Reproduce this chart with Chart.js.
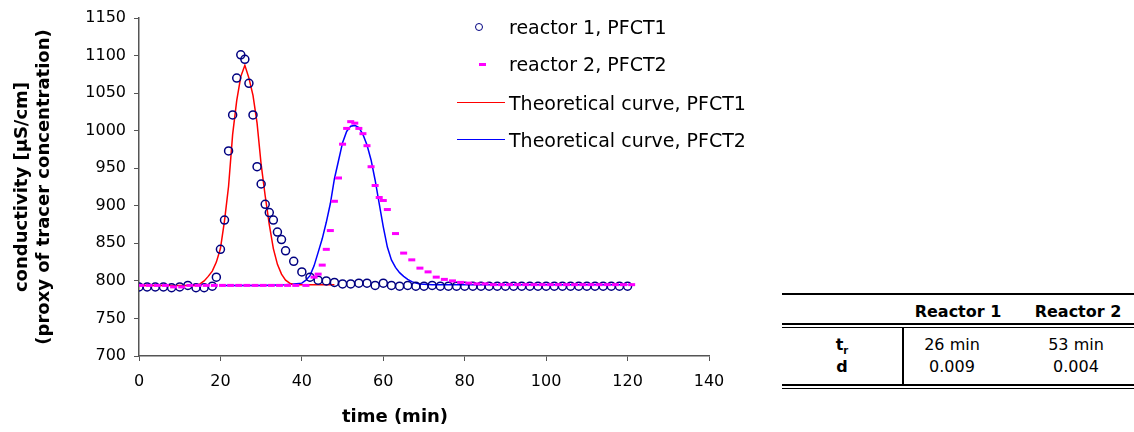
<!DOCTYPE html>
<html>
<head>
<meta charset="utf-8">
<script src="https://cdn.jsdelivr.net/npm/chart.js@4.4.0/dist/chart.umd.min.js"></script>
<style>
  body { margin: 0; background: #fff; font-family: "DejaVu Sans", Verdana, sans-serif; color: #000; }
  #wrap { position: relative; width: 1134px; height: 432px; overflow: hidden; }
  #chartBox { position: absolute; left: 0; top: 0; width: 740px; height: 432px; }
  .xtitle { position: absolute; left: 295px; top: 405px; width: 200px; text-align: center; font-weight: bold; font-size: 18px; }
  .lg { position: absolute; left: 509px; font-size: 19px; line-height: 22px; white-space: nowrap; }
  .mk { position: absolute; }
  .ln { position: absolute; height: 0; width: 48px; left: 457px; }
  .tline { position: absolute; left: 782px; width: 352px; background: #000; }
  .cell { position: absolute; font-size: 16px; line-height: 20px; text-align: center; }
</style>
</head>
<body>
<div id="wrap">
  <div id="chartBox"><canvas id="myChart"></canvas></div>
  <div class="xtitle">time (min)</div>

  <!-- legend -->
  <div class="mk" style="left:475px;top:23px;width:6px;height:6px;border:1.5px solid #000080;border-radius:50%;"></div>
  <div class="lg" style="top:16px;">reactor 1, PFCT1</div>
  <div class="mk" style="left:479px;top:63px;width:7px;height:3px;background:#ff00ff;"></div>
  <div class="lg" style="top:53px;">reactor 2, PFCT2</div>
  <div class="ln" style="top:102px;border-top:1.5px solid #ff0000;"></div>
  <div class="lg" style="top:92px;">Theoretical curve, PFCT1</div>
  <div class="ln" style="top:139px;border-top:1.5px solid #0000ff;"></div>
  <div class="lg" style="top:129px;">Theoretical curve, PFCT2</div>

  <!-- table -->
  <div class="tline" style="top:293px;height:2px;"></div>
  <div class="cell" style="left:903px;width:110px;top:302px;font-weight:bold;">Reactor 1</div>
  <div class="cell" style="left:1022px;width:112px;top:302px;font-weight:bold;">Reactor 2</div>
  <div class="tline" style="top:323px;height:2px;"></div>
  <div class="tline" style="top:327px;height:1px;"></div>
  <div style="position:absolute;left:902px;top:328px;width:2px;height:56px;background:#000;"></div>
  <div class="cell" style="left:782px;width:120px;top:335px;font-weight:bold;">t<sub style="font-size:10px;">r</sub></div>
  <div class="cell" style="left:904px;width:96px;top:335px;">26 min</div>
  <div class="cell" style="left:1022px;width:108px;top:335px;">53 min</div>
  <div class="cell" style="left:782px;width:120px;top:357px;font-weight:bold;">d</div>
  <div class="cell" style="left:904px;width:96px;top:357px;">0.009</div>
  <div class="cell" style="left:1022px;width:108px;top:357px;">0.004</div>
  <div class="tline" style="top:384px;height:2px;"></div>
  <div class="tline" style="top:388px;height:1px;"></div>
</div>

<script>
// reactor 1 (circles)
var r1Time = [0, 2, 4, 6, 8, 10, 12, 14, 16, 18, 19, 20, 21, 22, 23, 24, 25, 26, 27, 28, 29, 30,
  31, 32, 33, 34, 35, 36, 38, 40, 42, 44, 46, 48, 50, 52, 54, 56, 58, 60, 62, 64, 66, 68, 70,
  72, 74, 76, 78, 80, 82, 84, 86, 88, 90, 92, 94, 96, 98, 100, 102, 104, 106, 108, 110, 112,
  114, 116, 118, 120];
var r1Cond = [792, 792, 792, 792, 791, 792, 794, 791, 791, 793, 805, 842, 881, 973, 1021, 1070, 1101, 1095, 1063, 1021, 952, 929,
  902, 891, 881, 865, 855, 840, 826, 812, 805, 801, 800, 798, 796, 796, 797, 797, 794, 797, 794, 793, 794, 793, 793,
  794, 793, 793, 793, 793, 793, 793, 793, 793, 793, 793, 793, 793, 793, 793, 793, 793, 793, 793, 793, 793,
  793, 793, 793, 793];

// reactor 2 (dashes)
var r2Time = [0.5, 2.5, 4.5, 6.5, 8.5, 10.5, 12.5, 14.5, 16.5, 18.5, 20.5, 22.5, 24.5, 26.5, 28.5, 30.5,
  32.5, 34.5, 36.5, 38.5, 41, 43, 44, 45, 46, 47, 48, 49, 50, 51, 52, 53, 54, 55, 56, 57, 58, 59, 60,
  61, 63, 65, 67, 69, 71, 73, 75, 77, 79, 81, 83, 85, 87, 89, 91, 93, 95, 97, 99, 101, 103, 105,
  107, 109, 111, 113, 115, 117, 119, 121];
var r2Cond = [794, 794, 794, 794, 792, 792, 794, 794, 794, 794, 794, 794, 794, 794, 794, 794,
  794, 794, 794, 794, 794, 805, 809, 821, 842, 867, 906, 937, 982, 1003, 1012, 1010, 1003, 996, 980, 952, 927, 911, 907,
  895, 863, 837, 828, 817, 812, 805, 802, 800, 798, 797, 796, 796, 795, 795, 795, 795, 795, 795, 795, 795, 795, 795,
  795, 795, 795, 795, 795, 795, 795, 795];

// theoretical curve PFCT1
var th1Time = [0, 14, 15, 16, 17, 18, 19, 20, 21, 22, 23, 24, 25, 26, 27, 28, 29, 30, 31, 32, 33, 34, 35, 36, 37, 38, 40, 44, 48];
var th1Cond = [794, 794, 796, 800, 806, 813, 825, 843, 880, 926, 995, 1040, 1072, 1087, 1070, 1047, 1010, 955, 913, 875, 843, 822, 809, 801, 797, 795, 795, 795, 795];

// theoretical curve PFCT2
var th2Time = [20, 30, 36, 38, 40, 41, 42, 43, 44, 45, 46, 47, 48, 49, 50, 51, 52, 53, 54, 55, 56, 57, 58, 59, 60,
  61, 62, 63, 64, 65, 66, 67, 68, 69, 72, 80, 120];
var th2Cond = [794, 794, 795, 796, 797, 801, 807, 820, 838, 856, 878, 903, 936, 960, 984, 999, 1006, 1007, 1004, 995, 981, 961, 934, 903, 872,
  845, 828, 818, 811, 806, 802, 799, 797, 796, 795, 795, 795];

function pts(xs, ys) {
  return xs.map(function (x, i) { return { x: x, y: ys[i] }; });
}

Chart.defaults.font.family = '"DejaVu Sans", Verdana, sans-serif';
Chart.defaults.color = '#000';

var ctx = document.getElementById('myChart').getContext('2d');
var myChart = new Chart(ctx, {
  type: 'scatter',
  data: {
    datasets: [{
        label: 'reactor 2, PFCT2',
        data: pts(r2Time, r2Cond),
        pointStyle: 'line',
        pointRadius: 3.5,
        borderWidth: 3,
        borderColor: '#ff00ff',
        backgroundColor: '#ff00ff',
        order: 0
      }, {
        label: 'reactor 1, PFCT1',
        data: pts(r1Time, r1Cond),
        pointStyle: 'circle',
        pointRadius: 4,
        borderWidth: 1.5,
        borderColor: '#000080',
        backgroundColor: 'rgba(255,255,255,0)',
        order: 1
      }, {
        label: 'Theoretical curve, PFCT1',
        data: pts(th1Time, th1Cond),
        showLine: true,
        pointRadius: 0,
        borderWidth: 1.5,
        borderColor: '#ff0000',
        backgroundColor: '#ff0000',
        order: 2
      }, {
        label: 'Theoretical curve, PFCT2',
        data: pts(th2Time, th2Cond),
        showLine: true,
        pointRadius: 0,
        borderWidth: 1.5,
        borderColor: '#0000ff',
        backgroundColor: '#0000ff',
        order: 3
      }
    ]
  },
  options: {
    responsive: true,
    maintainAspectRatio: false,
    animation: false,
    layout: { padding: { top: 18, right: 31, left: 0, bottom: 0 } },
    plugins: {
      legend: { display: false },
      tooltip: { enabled: false }
    },
    scales: {
      x: {
        min: 0,
        max: 140,
        ticks: { stepSize: 20, font: { size: 16 }, padding: 11, callback: function (v) { return String(v); } },
        grid: { drawOnChartArea: false, tickLength: 5, color: '#555' },
        border: { color: '#555', width: 1.5 },
        afterFit: function (scale) { scale.height = 76; }
      },
      y: {
        min: 700,
        max: 1150,
        ticks: { stepSize: 50, font: { size: 16 }, padding: 8, callback: function (v) { return String(v); } },
        grid: { drawOnChartArea: false, tickLength: 5, color: '#555' },
        border: { color: '#555', width: 1.5 },
        title: {
          display: true,
          text: ['conductivity [µS/cm]', '(proxy of tracer concentration)'],
          font: { size: 18, weight: 'bold', lineHeight: 1.25 },
          padding: { top: 11, bottom: 0 }
        },
        afterFit: function (scale) { scale.width = 139; }
      }
    }
  }
});
</script>
</body>
</html>
